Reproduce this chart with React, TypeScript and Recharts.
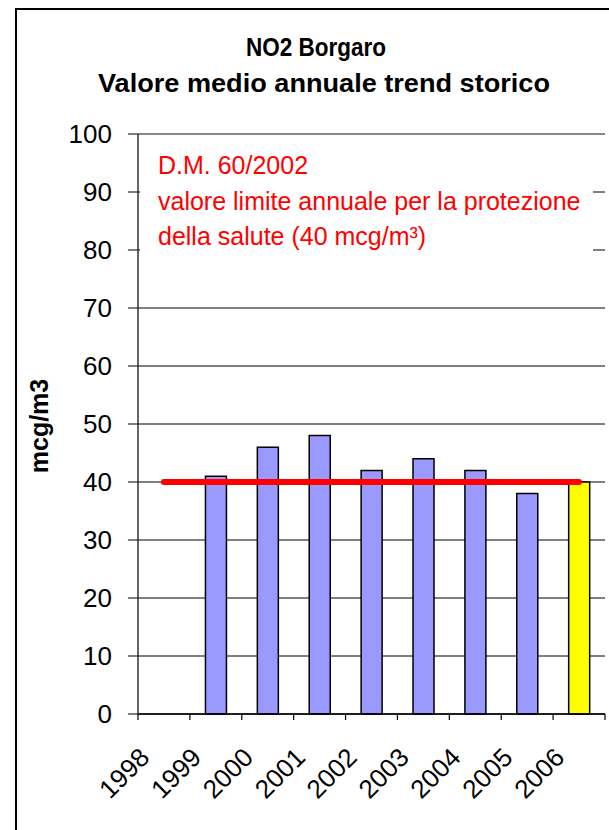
import React from 'react';
import { ComposedChart, Bar, Line, XAxis, YAxis, CartesianGrid, Cell, ReferenceLine } from 'recharts';

const years = ['1998', '1999', '2000', '2001', '2002', '2003', '2004', '2005', '2006'];
const no2Values = [null, 41, 46, 48, 42, 44, 42, 38, 40];
const limitValues = [40, 40, 40, 40, 40, 40, 40, 40, 40];
const barColors = ['#9999FF', '#9999FF', '#9999FF', '#9999FF', '#9999FF', '#9999FF', '#9999FF', '#9999FF', '#FFFF00'];
const yTicks = [0, 10, 20, 30, 40, 50, 60, 70, 80, 90, 100];

const data = years.map((year, i) => ({ year, no2: no2Values[i], limit: limitValues[i] }));

const W = 609;
const H = 830;
const PLOT_LEFT = 138;
const PLOT_RIGHT = 605;
const PLOT_TOP = 134;
const PLOT_BOTTOM = 714;
const FONT = '"Liberation Sans", Arial, sans-serif';

const YearTick = (props: any) => {
  const { x, y, payload, index } = props;
  const band = (PLOT_RIGHT - PLOT_LEFT) / years.length;
  const ax = x - 13;
  const ay = y + 45;
  return (
    <g>
      <line x1={x - band / 2} x2={x - band / 2} y1={y} y2={y + 6} stroke="#000" strokeWidth={1.2} />
      {index === years.length - 1 && (
        <line x1={x + band / 2} x2={x + band / 2} y1={y} y2={y + 6} stroke="#000" strokeWidth={1.2} />
      )}
      <text
        x={ax}
        y={ay}
        transform={`rotate(-45 ${ax} ${ay})`}
        textAnchor="end"
        fontSize={26}
        fontFamily={FONT}
        fill="#000"
      >
        {payload.value}
      </text>
    </g>
  );
};

export default function App() {
  return (
    <div style={{ position: 'absolute', left: 0, top: 0, width: W, height: H, background: '#fff' }}>
      <ComposedChart
        width={W}
        height={H}
        data={data}
        margin={{ top: PLOT_TOP, right: W - PLOT_RIGHT, left: PLOT_LEFT - 60, bottom: 0 }}
        barCategoryGap="30%"
      >
        <CartesianGrid vertical={false} stroke="#000" strokeWidth={1} />
        <XAxis
          dataKey="year"
          interval={0}
          height={H - PLOT_BOTTOM}
          tickLine={false}
          tickSize={0}
          tickMargin={0}
          axisLine={{ stroke: '#000', strokeWidth: 1.5 }}
          tick={<YearTick />}
        />
        <YAxis
          domain={[0, 100]}
          ticks={yTicks}
          interval={0}
          width={60}
          tickSize={10}
          tickMargin={16}
          axisLine={{ stroke: '#333', strokeWidth: 1.5 }}
          tickLine={{ stroke: '#000' }}
          tick={{ fontSize: 26, fill: '#000', fontFamily: FONT }}
        />
        <YAxis
          yAxisId="right"
          orientation="right"
          width={0}
          tick={false}
          tickLine={false}
          axisLine={{ stroke: '#888', strokeWidth: 1.5 }}
        />
        <ReferenceLine y={100} stroke="#888" strokeWidth={1.5} />
        <Bar dataKey="no2" stroke="#000" strokeWidth={1.5} isAnimationActive={false}>
          {data.map((d, i) => (
            <Cell key={d.year} fill={barColors[i]} />
          ))}
        </Bar>
        <Line
          type="linear"
          dataKey="limit"
          stroke="#FF0000"
          strokeWidth={6}
          strokeLinecap="round"
          dot={false}
          activeDot={false}
          isAnimationActive={false}
        />
      </ComposedChart>
      <svg
        width={W}
        height={H}
        style={{ position: 'absolute', left: 0, top: 0, pointerEvents: 'none' }}
        fontFamily={FONT}
      >
        <line x1={16} y1={9} x2={16} y2={H} stroke="#000" strokeWidth={2} />
        <line x1={15} y1={9} x2={W} y2={9} stroke="#000" strokeWidth={2} />
        <text x={316} y={56} textAnchor="middle" fontSize={26} fontWeight="bold" fill="#000" textLength={140} lengthAdjust="spacingAndGlyphs">
          NO2 Borgaro
        </text>
        <text x={324} y={92} textAnchor="middle" fontSize={25} fontWeight="bold" fill="#000" textLength={452} lengthAdjust="spacingAndGlyphs">
          Valore medio annuale trend storico
        </text>
        <text
          x={48}
          y={426}
          transform="rotate(-90 48 426)"
          textAnchor="middle"
          fontSize={25}
          fontWeight="bold"
          fill="#000"
        >
          mcg/m3
        </text>
        <rect x={140} y={139} width={453} height={140} fill="#fff" />
        <g fill="#FF0000" fontSize={25}>
          <text x={158} y={174}>D.M. 60/2002</text>
          <text x={158} y={210}>valore limite annuale per la protezione</text>
          <text x={158} y={245}>della salute (40 mcg/m³)</text>
        </g>
      </svg>
    </div>
  );
}
